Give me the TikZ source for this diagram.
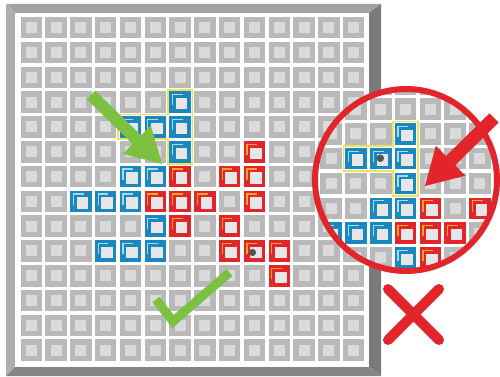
\documentclass[tikz,border=0pt]{standalone}
\definecolor{cg}{HTML}{B9B9B9}
\definecolor{ci}{HTML}{DADADA}
\definecolor{pblue}{HTML}{1A88BE}
\definecolor{pred}{HTML}{E2252B}
\definecolor{bblue}{HTML}{A3DCF2}
\definecolor{bred}{HTML}{F6A623}
\definecolor{innersq}{HTML}{E6E6E6}
\definecolor{ggreen}{HTML}{7DC142}
\definecolor{yel}{HTML}{EEE35C}
\definecolor{frtop}{HTML}{A2A2A2}
\definecolor{frleft}{HTML}{AEAEAE}
\definecolor{frright}{HTML}{7A7A7A}
\definecolor{frbot}{HTML}{858585}
\definecolor{dotc}{HTML}{555555}
\newcommand\gcell[2]{%
  \fill[cg] ({20.5+24.8*#1},{17+24.8*#2}) rectangle ++(21.5,21.5);
  \fill[ci] ({25.75+24.8*#1},{22.25+24.8*#2}) rectangle ++(11,11);}
\newcommand\pcell[4]{%
  \fill[#1] ({20.5+24.8*#3},{17+24.8*#4}) rectangle ++(21.5,21.5);
  \fill[innersq] ({27+24.8*#3},{23.5+24.8*#4}) rectangle ++(11.5,11.5);
  \draw[#2,line width=1.3] ({23.8+24.8*#3},{31+24.8*#4}) |- ({34+24.8*#3},{20.3+24.8*#4});}
\newcommand\redset{\foreach \cc/\rr in {6/6,8/6,9/6,5/7,6/7,7/7,9/7,6/8,8/8,8/9,9/9,10/9,10/10,9/5}{\pcell{pred}{bred}{\cc}{\rr}}}
\newcommand\blueset{\foreach \cc/\rr in {4/6,5/6,2/7,3/7,4/7,5/8,3/9,4/9,5/9}{\pcell{pblue}{bblue}{\cc}{\rr}}}
\begin{document}
\begin{tikzpicture}[x=1pt,y=-1pt]
\useasboundingbox (0,0) rectangle (500,377);
\fill[white] (0,0) rectangle (500,377);
% board frame
\fill[frtop] (6,4) -- (381,4) -- (369,13) -- (15,13) -- cycle;
\fill[frleft] (6,4) -- (15,13) -- (15,367) -- (6,376) -- cycle;
\fill[frright] (381,4) -- (381,376) -- (369,367) -- (369,13) -- cycle;
\fill[frbot] (6,376) -- (381,376) -- (369,367) -- (15,367) -- cycle;
\fill[white] (15,13) rectangle (369,367);
% board cells
\foreach \cc in {0,...,13}{\foreach \rr in {0,...,13}{\gcell{\cc}{\rr}}}
\blueset
\foreach \cc/\rr in {6/3,4/4,5/4,6/4,6/5}{\pcell{pblue}{bblue}{\cc}{\rr}}
\redset
\draw[yel,line width=1.8] (167.65,89.75) -- (192.45,89.75) -- (192.45,164.15) -- (167.65,164.15) -- (167.65,139.35) -- (118.05,139.35) -- (118.05,114.55) -- (167.65,114.55) -- cycle;
\fill[dotc] (252.5,252.5) circle (3.6pt);
% green arrow and check
\fill[ggreen] (86.8,99.3) -- (95.2,90.7) -- (141.1,135.3) -- (150.8,125.3) -- (162,164) -- (123.0,153.9) -- (132.7,143.9) -- cycle;
\draw[ggreen,line width=9,line join=miter] (156,299.5) -- (173,321.5) -- (229.5,272.5);
% magnifier
\begin{scope}
\clip (406,180) circle (91pt);
\fill[white] (300,80) rectangle (500,280);
\begin{scope}[shift={(250.3,31.7)}]
\foreach \cc in {1,...,10}{\foreach \rr in {1,...,10}{\gcell{\cc}{\rr}}}
\blueset
\foreach \cc/\rr in {5/3,3/4,4/4,5/4,5/5}{\pcell{pblue}{bblue}{\cc}{\rr}}
\redset
\draw[yel,line width=1.8] (142.85,89.75) -- (167.65,89.75) -- (167.65,164.15) -- (142.85,164.15) -- (142.85,139.35) -- (93.25,139.35) -- (93.25,114.55) -- (142.85,114.55) -- cycle;
\fill[dotc] (130,126.5) circle (3.8pt);
\end{scope}
\end{scope}
\draw[pred,line width=6] (406,180) circle (91pt);
\fill[pred] (489.4,113.4) -- (446.0,156.1) -- (435.9,145.7) -- (425,186) -- (465.3,175.7) -- (455.2,165.3) -- (498.6,122.6) -- cycle;
% red cross
\draw[pred,line width=10,line cap=round] (388,289) -- (439,340);
\draw[pred,line width=10,line cap=round] (439,289) -- (388,340);
\end{tikzpicture}
\end{document}
